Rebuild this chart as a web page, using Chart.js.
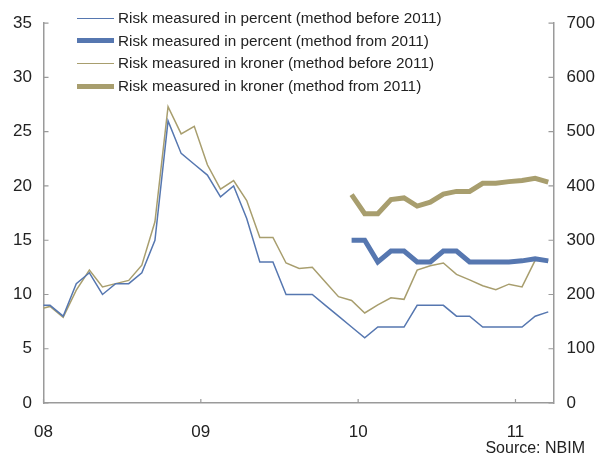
<!DOCTYPE html>
<html>
<head>
<meta charset="utf-8">
<script src="https://cdn.jsdelivr.net/npm/chart.js@4"></script>
<style>
  html, body { margin: 0; padding: 0; background: #fff; }
  #wrap { position: relative; width: 595px; height: 456px; }
  #legend { position: absolute; left: 77px; top: 7px; font: 15.3px 'Liberation Sans', Arial, sans-serif; color: #222; }
  .item { display: flex; align-items: center; height: 22.6px; white-space: nowrap; }
  .swatch { width: 37px; margin-right: 4px; }
  #source { position: absolute; right: 10px; top: 439px; font: 16px 'Liberation Sans', Arial, sans-serif; color: #222; }
</style>
</head>
<body>
<div id="wrap">
  <canvas id="chart" width="595" height="456"></canvas>
  <div id="legend"></div>
  <div id="source">Source: NBIM</div>
</div>
<script>
// monthly observations, plotted mid-month
const months = [
  '2007-12',
  '2008-01', '2008-02', '2008-03', '2008-04', '2008-05', '2008-06', '2008-07', '2008-08', '2008-09', '2008-10', '2008-11', '2008-12',
  '2009-01', '2009-02', '2009-03', '2009-04', '2009-05', '2009-06', '2009-07', '2009-08', '2009-09', '2009-10', '2009-11', '2009-12',
  '2010-01', '2010-02', '2010-03', '2010-04', '2010-05', '2010-06', '2010-07', '2010-08', '2010-09', '2010-10', '2010-11', '2010-12',
  '2011-01', '2011-02', '2011-03'
];

// percent, left axis
const pctOld = [9, 9, 8, 11, 12, 10, 11, 11, 12, 15, 26, 23, 22, 21, 19, 20, 17, 13, 13, 10, 10, 10, 9, 8, 7, 6, 7, 7, 7, 9, 9, 9, 8, 8, 7, 7, 7, 7, 8, 8.4];
const pctNew = [null, null, null, null, null, null, null, null, null, null, null, null, null, null, null, null, null, null, null, null, null, null, null, null,
  15, 15, 13, 14, 14, 13, 13, 14, 14, 13, 13, 13, 13, 13.1, 13.3, 13.1];

// kroner (billion), right axis
const krOld = [172, 178, 158, 208, 245, 214, 220, 226, 254, 334, 546, 496, 510, 439, 394, 410, 373, 305, 305, 258, 248, 250, 223, 196, 189, 166, 181, 194, 191, 245, 253, 258, 237, 227, 216, 209, 219, 214, 263, 262];
const krNew = [null, null, null, null, null, null, null, null, null, null, null, null, null, null, null, null, null, null, null, null, null, null, null, null,
  384, 349, 349, 375, 378, 363, 370, 385, 390, 390, 405, 405, 408, 410, 414, 407];

const yearTicks = [2008, 2009, 2010, 2011];
const yearLabels = ['08', '09', '10', '11'];
const seriesNames = [
  'Risk measured in percent (method before 2011)',
  'Risk measured in percent (method from 2011)',
  'Risk measured in kroner (method before 2011)',
  'Risk measured in kroner (method from 2011)'
];

const BLUE = '#5677b0';
const TAN = '#a89e6e';
const AXIS = '#9a9a9a';
const FONT = "'Liberation Sans', Arial, sans-serif";

function monthIndex(m) {
    const [y, mo] = m.split('-').map(Number);
    return (y - 2008) * 12 + (mo - 1);
}

function toPoints(values) {
    return months.map((m, i) => ({ x: monthIndex(m), y: values[i] }));
}

// tick marks point into the plot area
const inwardTicks = {
    id: 'inwardTicks',
    afterDraw(chart) {
        const { ctx } = chart;
        const { x, y, y2 } = chart.scales;
        ctx.save();
        ctx.strokeStyle = AXIS;
        ctx.lineWidth = 1.2;
        ctx.beginPath();
        x.ticks.forEach(t => {
            const px = x.getPixelForValue(t.value);
            ctx.moveTo(px, x.top);
            ctx.lineTo(px, x.top - 4);
        });
        y.ticks.forEach(t => {
            const py = y.getPixelForValue(t.value);
            ctx.moveTo(y.right, py);
            ctx.lineTo(y.right + 5, py);
        });
        y2.ticks.forEach(t => {
            const py = y2.getPixelForValue(t.value);
            ctx.moveTo(y2.left, py);
            ctx.lineTo(y2.left - 5, py);
        });
        ctx.stroke();
        ctx.restore();
    }
};

const datasets = [
    { label: seriesNames[0], data: toPoints(pctOld), yAxisID: 'y', borderColor: BLUE, borderWidth: 1.5, order: 3 },
    { label: seriesNames[1], data: toPoints(pctNew), yAxisID: 'y', borderColor: BLUE, borderWidth: 5, order: 1 },
    { label: seriesNames[2], data: toPoints(krOld), yAxisID: 'y2', borderColor: TAN, borderWidth: 1.5, order: 4 },
    { label: seriesNames[3], data: toPoints(krNew), yAxisID: 'y2', borderColor: TAN, borderWidth: 5, order: 2 }
].map(d => Object.assign(d, { pointRadius: 0, tension: 0, fill: false, clip: 0, spanGaps: false }));

const tickFont = { family: FONT, size: 17 };

new Chart(document.getElementById('chart').getContext('2d'), {
    type: 'line',
    data: { datasets },
    options: {
        responsive: false,
        animation: false,
        layout: { padding: { top: 18.3, left: 0, right: 0, bottom: 0 } },
        plugins: { legend: { display: false }, tooltip: { enabled: false } },
        scales: {
            x: {
                type: 'linear',
                min: -0.5,
                max: 38.4,
                grid: { display: false, drawTicks: false },
                border: { display: true, color: AXIS, width: 1.5 },
                afterBuildTicks: s => { s.ticks = yearTicks.map(yr => ({ value: (yr - 2008) * 12 - 0.5 })); },
                afterFit: s => { s.height = 53; },
                ticks: {
                    font: tickFont,
                    color: '#222',
                    padding: 19,
                    maxRotation: 0,
                    callback: (v) => yearLabels[Math.round((v + 0.5) / 12)]
                }
            },
            y: {
                position: 'left',
                min: 0,
                max: 35,
                grid: { display: false, drawTicks: false },
                border: { display: true, color: AXIS, width: 1.5 },
                afterFit: s => { s.width = 43.5; },
                ticks: { stepSize: 5, font: tickFont, color: '#222', padding: 11.5 }
            },
            y2: {
                position: 'right',
                min: 0,
                max: 700,
                grid: { display: false, drawTicks: false },
                border: { display: true, color: AXIS, width: 1.5 },
                afterFit: s => { s.width = 41.5; },
                ticks: { stepSize: 100, font: tickFont, color: '#222', padding: 13 }
            }
        }
    },
    plugins: [inwardTicks]
});

// legend drawn as html over the plot
const legend = document.getElementById('legend');
datasets.forEach(d => {
    legend.insertAdjacentHTML('beforeend', `
        <div class="item">
            <div class="swatch" style="height:${d.borderWidth}px;background:${d.borderColor}"></div>
            <span>${d.label}</span>
        </div>`);
});
</script>
</body>
</html>
